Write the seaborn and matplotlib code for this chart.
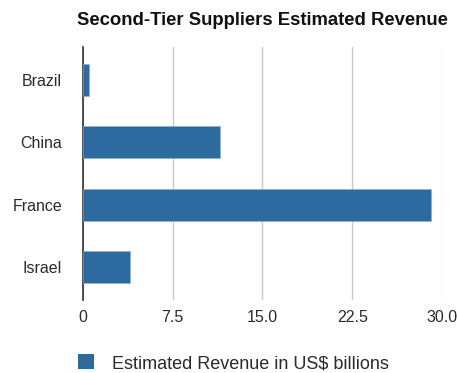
import matplotlib
matplotlib.use("Agg")
import matplotlib.pyplot as plt
import seaborn as sns
import pandas as pd
from matplotlib.patches import Patch

countries = ["Brazil", "China", "France", "Israel"]
revenue = [0.53, 11.45, 29.1, 3.95]
xticks = [0, 7.5, 15.0, 22.5, 30.0]
xtick_labels = ["0", "7.5", "15.0", "22.5", "30.0"]
title = "Second-Tier Suppliers Estimated Revenue"
series_name = "Estimated Revenue in US$ billions"

bar_color = "#2D6A9F"

sns.set_theme(style="white")
plt.rcParams["font.family"] = ["Liberation Sans", "DejaVu Sans"]

df = pd.DataFrame({"country": countries, "revenue": revenue})

fig = plt.figure(figsize=(4.58, 3.73), dpi=100)
ax = fig.add_axes([0.1812, 0.1957, 0.7838, 0.6783])

sns.barplot(data=df, x="revenue", y="country", orient="h", color=bar_color,
            width=0.51, saturation=1, edgecolor="#8FB0D0", linewidth=0.4, ax=ax,
            zorder=3)

ax.set_xlim(0, 30)
ax.set_ylim(3.52, -0.52)
ax.set_xticks(xticks)
ax.set_xticklabels(xtick_labels)
ax.set_xlabel("")
ax.set_ylabel("")
ax.grid(axis="x", color="#C8C8C8", linewidth=1.0, zorder=0)
ax.set_axisbelow(True)
for side in ["top", "right", "bottom"]:
    ax.spines[side].set_visible(False)
ax.spines["left"].set_color("#333333")
ax.spines["left"].set_linewidth(1.2)
ax.tick_params(axis="both", length=0, labelsize=11.5, colors="#2A2A2A")
ax.tick_params(axis="x", pad=7)
ax.tick_params(axis="y", pad=15)

fig.text(0.572, 0.945, title, ha="center", va="center", fontsize=13.3,
         fontweight="bold", color="#111111")

handle = Patch(facecolor=bar_color, edgecolor="none")
fig.legend(handles=[handle], labels=[series_name], loc="center left",
           bbox_to_anchor=(0.17, 0.026), frameon=False, fontsize=13,
           handlelength=0.9, handleheight=0.9, handletextpad=1.0,
           borderaxespad=0, borderpad=0, labelcolor="#2A2A2A")

fig.savefig("out.png", dpi=100)
